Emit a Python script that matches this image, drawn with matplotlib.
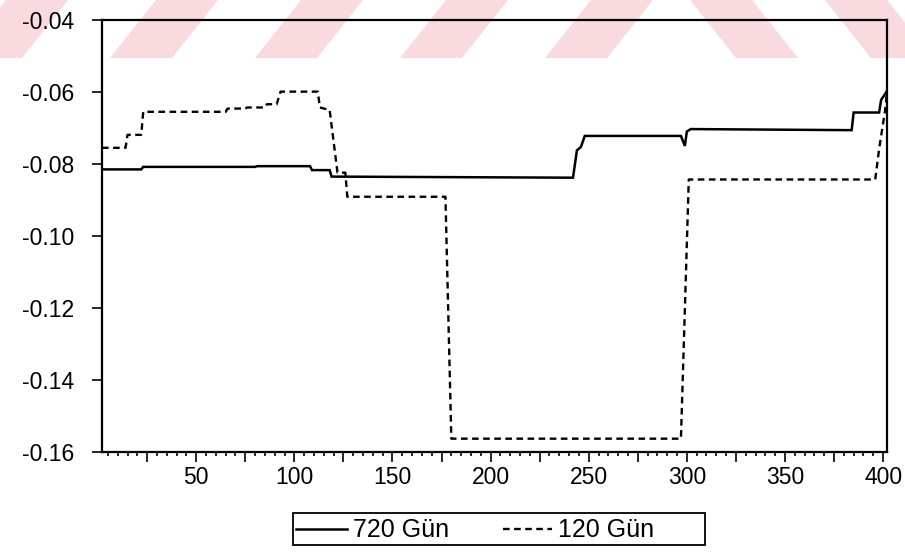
import matplotlib
matplotlib.use("Agg")
import matplotlib.pyplot as plt
from matplotlib.patches import Polygon, Rectangle
from matplotlib.lines import Line2D
from matplotlib.ticker import FixedLocator, MultipleLocator, FuncFormatter, FormatStrFormatter

plt.rcParams["font.family"] = ["Liberation Sans", "DejaVu Sans"]
plt.rcParams["axes.unicode_minus"] = False

# Series: observation index and value at each break of the path
obs_720 = [2, 22, 23, 80, 81, 108, 109, 118, 119, 241, 242, 244, 246, 248,
           297, 299, 300, 302, 384, 385, 398, 399, 401, 402]
val_720 = [-0.0815, -0.0815, -0.0808, -0.0808, -0.0806, -0.0806, -0.0817, -0.0817,
           -0.0835, -0.0838, -0.0838, -0.0762, -0.0753, -0.0722, -0.0722, -0.0750,
           -0.0710, -0.0703, -0.0706, -0.0657, -0.0657, -0.0622, -0.0606, -0.0597]

obs_120 = [2, 14, 15, 22, 23, 65, 66, 75, 76, 85, 86, 91, 93, 112, 113, 118,
           122, 126, 127, 177, 180, 297, 301, 396, 398, 401, 402]
val_120 = [-0.0755, -0.0755, -0.0719, -0.0719, -0.0655, -0.0655, -0.0646, -0.0646,
           -0.0643, -0.0643, -0.0634, -0.0634, -0.0599, -0.0599, -0.0643, -0.0650,
           -0.0824, -0.0824, -0.0891, -0.0891, -0.1563, -0.1563, -0.0843, -0.0843,
           -0.0758, -0.0652, -0.0600]

labels = ["720 Gün", "120 Gün"]
y_ticks = [-0.16, -0.14, -0.12, -0.10, -0.08, -0.06, -0.04]
x_labeled = [50, 100, 150, 200, 250, 300, 350, 400]

W, H = 905, 554
fig = plt.figure(figsize=(W / 100, H / 100), dpi=100)


def fx(px):
    return px / W


def fy(py):
    return 1 - py / H


# Pale diagonal band across the top of the page, behind everything else
band_h = 58
stripe_w = 62
shift = 46
stripe_color = "#f9dade"
for b in [-40, 110, 255, 400, 545]:
    pts = [(b, band_h), (b + stripe_w, band_h), (b + stripe_w + shift, 0), (b + shift, 0)]
    fig.patches.append(Polygon([(fx(x), fy(y)) for x, y in pts], closed=True,
                               transform=fig.transFigure, facecolor=stripe_color,
                               edgecolor="none", zorder=-5))
for b in [690, 825]:
    pts = [(b + shift, band_h), (b + shift + stripe_w, band_h), (b + stripe_w, 0), (b, 0)]
    fig.patches.append(Polygon([(fx(x), fy(y)) for x, y in pts], closed=True,
                               transform=fig.transFigure, facecolor=stripe_color,
                               edgecolor="none", zorder=-5))

ax = fig.add_axes([fx(102), fy(452), (887 - 102) / W, (452 - 20) / H])
ax.patch.set_alpha(0)
ax.set_zorder(2)

solid_style = dict(color="black", lw=1.8, solid_joinstyle="miter")
dash_style = dict(color="black", lw=1.7, linestyle=(0, (2.8, 1.9)))

ax.plot(obs_720, val_720, **solid_style)
ax.plot(obs_120, val_120, **dash_style)

ax.set_xlim(2, 402)
ax.set_ylim(-0.16, -0.04)

ax.yaxis.set_major_locator(FixedLocator(y_ticks))
ax.yaxis.set_major_formatter(FormatStrFormatter("%.2f"))
ax.xaxis.set_major_locator(MultipleLocator(25))
ax.xaxis.set_minor_locator(MultipleLocator(5))
ax.xaxis.set_major_formatter(FuncFormatter(lambda v, p: f"{int(v)}" if int(round(v)) in x_labeled else ""))

ax.tick_params(axis="y", direction="out", length=7.2, width=1.2, pad=13, labelsize=16.5)
ax.tick_params(axis="x", which="major", direction="out", length=7, width=1.2, pad=3, labelsize=16.5)
ax.tick_params(axis="x", which="minor", direction="out", length=3, width=1.2)
for s in ax.spines.values():
    s.set_linewidth(1.6)
    s.set_color("black")

# Legend box drawn in figure pixels
fig.add_artist(Rectangle((fx(293), fy(545)), (705 - 293) / W, (545 - 513) / H,
                         transform=fig.transFigure, facecolor="white",
                         edgecolor="black", lw=1.3, zorder=3))
ly = fy(529)
fig.add_artist(Line2D([fx(296), fx(347)], [ly, ly], transform=fig.transFigure,
                      zorder=4, **solid_style))
fig.add_artist(Line2D([fx(503), fx(552)], [ly, ly], transform=fig.transFigure,
                      zorder=4, **dash_style))
fig.text(fx(353), fy(530), labels[0], fontsize=18, ha="left", va="center", zorder=4)
fig.text(fx(558), fy(530), labels[1], fontsize=18, ha="left", va="center", zorder=4)

fig.savefig("out.png", dpi=100)
